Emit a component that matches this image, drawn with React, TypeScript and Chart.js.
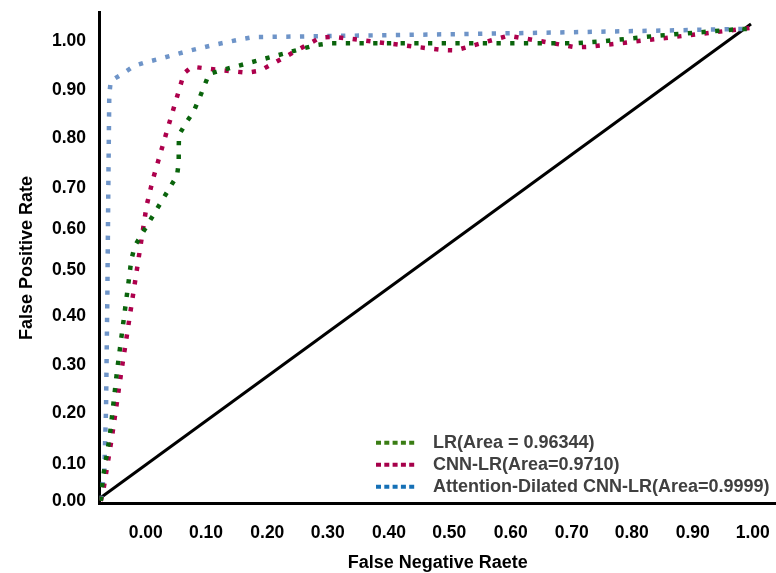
import React, { useEffect, useRef } from 'react';
import { Chart, registerables } from 'chart.js';

Chart.register(...registerables);

// Tick labels and where they sit along each axis (data units)
const xTickLabels = ['0.00', '0.10', '0.20', '0.30', '0.40', '0.50', '0.60', '0.70', '0.80', '0.90', '1.00'];
const xTickValues = [0.0709, 0.1635, 0.2576, 0.3503, 0.4444, 0.5369, 0.6312, 0.7248, 0.8169, 0.9105, 1.0026];
const yTickLabels = ['0.00', '0.10', '0.20', '0.30', '0.40', '0.50', '0.60', '0.70', '0.80', '0.90', '1.00'];
const yTickValues = [0.0048, 0.082, 0.1884, 0.2886, 0.3908, 0.4868, 0.5723, 0.6579, 0.7622, 0.8623, 0.9652];

const seriesNames = ['LR(Area = 0.96344)', 'CNN-LR(Area=0.9710)', 'Attention-Dilated CNN-LR(Area=0.9999)'];

// LR curve
const lrX = [0.002, 0.0054, 0.0157, 0.0273, 0.0437, 0.0488, 0.054, 0.0642, 0.1082, 0.119, 0.1216, 0.1216, 0.122, 0.1323, 0.144, 0.1527, 0.1681, 0.1885, 0.3308, 0.3518, 0.7298, 0.7724, 0.8568, 0.9831, 1.0];
const lrY = [0.005, 0.0542, 0.139, 0.2802, 0.4519, 0.5076, 0.5362, 0.5598, 0.6593, 0.6835, 0.7106, 0.7392, 0.7684, 0.7928, 0.8164, 0.8429, 0.8957, 0.904, 0.9556, 0.9597, 0.9597, 0.9639, 0.9756, 0.9896, 0.99];

// CNN-LR curve
const cnnX = [0.002, 0.0058, 0.0192, 0.0341, 0.0534, 0.0724, 0.0821, 0.1056, 0.1297, 0.142, 0.1839, 0.2259, 0.2464, 0.3384, 0.3589, 0.5257, 0.5467, 0.6275, 0.7318, 0.7529, 0.9831, 1.0];
const cnnY = [0.005, 0.0263, 0.139, 0.2802, 0.4519, 0.6217, 0.6766, 0.7866, 0.8971, 0.9109, 0.904, 0.8984, 0.9026, 0.9714, 0.9735, 0.9458, 0.9451, 0.9756, 0.9514, 0.9526, 0.9889, 0.992];

// Attention-Dilated CNN-LR curve
const attX = [0.0023, 0.0074, 0.01, 0.012, 0.0135, 0.015, 0.0172, 0.0356, 0.053, 0.0724, 0.0929, 0.1343, 0.1747, 0.2167, 0.2371, 0.2797, 0.5952, 0.8276, 1.0];
const attY = [0.0069, 0.0695, 0.1947, 0.4242, 0.6537, 0.8519, 0.8811, 0.8963, 0.9124, 0.9207, 0.9276, 0.943, 0.9562, 0.9681, 0.9729, 0.9735, 0.9798, 0.9854, 0.99];

// Chance diagonal
const chanceX = [0, 1];
const chanceY = [0.01, 1];

const lineColors = ['#0a640c', '#ad004c', '#6e94c8'];
const legendColors = ['#3a7d14', '#a6004a', '#1570b6'];

const toPoints = (xs: number[], ys: number[]) => xs.map((x, i) => ({ x, y: ys[i] }));

const FONT = "'Liberation Sans', Arial, sans-serif";

const legendPlacer = {
  id: 'legendPlacer',
  beforeDraw(chart: any) {
    const lg = chart.legend;
    if (!lg) return;
    lg.left = 372;
    lg.top = 429.7;
    lg.right = 776;
    lg.bottom = 573;
    lg.width = lg.right - lg.left;
    lg.height = lg.bottom - lg.top;
  },
};

export default function App() {
  const ref = useRef<HTMLCanvasElement | null>(null);

  useEffect(() => {
    if (!ref.current) return;
    const dotted = (i: number) => ({
      label: seriesNames[i],
      borderColor: lineColors[i],
      backgroundColor: lineColors[i],
      borderWidth: 4.5,
      borderDash: [4.3, 9.4],
      borderCapStyle: 'butt',
      showLine: true,
      pointRadius: 0,
      pointHoverRadius: 0,
      fill: false,
      tension: 0,
    });
    const legendDash = [5, 3.3, 5, 3.3, 5, 3.3, 5, 3.3, 5, 100];

    const chart = new Chart(ref.current, {
      type: 'scatter',
      data: {
        datasets: [
          { ...dotted(0), data: toPoints(lrX, lrY) },
          { ...dotted(1), data: toPoints(cnnX, cnnY) },
          { ...dotted(2), data: toPoints(attX, attY) },
          {
            label: 'chance',
            data: toPoints(chanceX, chanceY),
            borderColor: '#000',
            backgroundColor: '#000',
            borderWidth: 3,
            showLine: true,
            pointRadius: 0,
            pointHoverRadius: 0,
            fill: false,
          },
        ],
      } as any,
      options: {
        animation: false,
        responsive: false,
        maintainAspectRatio: false,
        layout: { padding: { top: 12.7, left: 0, right: 0, bottom: 0 } },
        plugins: {
          tooltip: { enabled: false },
          legend: {
            display: true,
            position: 'chartArea' as any,
            align: 'start',
            labels: {
              usePointStyle: true,
              pointStyleWidth: 48,
              padding: 4,
              color: '#404040',
              textAlign: 'left',
              font: { family: FONT, size: 18, weight: 'bold' },
              generateLabels: () =>
                seriesNames.map((name, i) => ({
                  text: name,
                  datasetIndex: i,
                  hidden: false,
                  fillStyle: legendColors[i],
                  strokeStyle: legendColors[i],
                  lineWidth: 4,
                  lineDash: legendDash,
                  lineDashOffset: 0,
                  lineCap: 'butt',
                  pointStyle: 'line',
                  fontColor: '#404040',
                })) as any,
            },
          },
        },
        scales: {
          x: {
            type: 'linear',
            min: 0,
            max: 1.0384,
            grid: { display: false, drawTicks: false },
            border: { display: true, color: '#000', width: 3 },
            afterBuildTicks: (scale: any) => {
              scale.ticks = xTickValues.map((v) => ({ value: v }));
            },
            afterFit: (scale: any) => {
              scale.height = 69.7;
              scale.paddingLeft = 0;
              scale.paddingRight = 0;
            },
            ticks: {
              autoSkip: false,
              maxRotation: 0,
              padding: 19.2,
              color: '#000',
              font: { family: FONT, size: 17.5, weight: 'bold' },
              callback: (_v: any, i: number) => xTickLabels[i],
            },
            title: {
              display: true,
              text: 'False Negative Raete',
              color: '#000',
              font: { family: FONT, size: 18, weight: 'bold', lineHeight: 1.1 },
              padding: { top: 0, bottom: 0 },
            },
          },
          y: {
            type: 'linear',
            min: 0,
            max: 1.0236,
            grid: { display: false, drawTicks: false },
            border: { display: true, color: '#000', width: 3 },
            afterBuildTicks: (scale: any) => {
              scale.ticks = yTickValues.map((v) => ({ value: v }));
            },
            afterFit: (scale: any) => {
              scale.width = 99.5;
              scale.paddingTop = 0;
              scale.paddingBottom = 0;
            },
            ticks: {
              autoSkip: false,
              padding: 13.5,
              color: '#000',
              font: { family: FONT, size: 17.5, weight: 'bold' },
              callback: (_v: any, i: number) => yTickLabels[i],
            },
            title: {
              display: true,
              text: 'False Positive Rate',
              color: '#000',
              font: { family: FONT, size: 18, weight: 'bold', lineHeight: 1.1 },
              padding: { top: 17, bottom: 0 },
            },
          },
        },
      } as any,
      plugins: [legendPlacer],
    });
    return () => chart.destroy();
  }, []);

  return (
    <div style={{ position: 'fixed', left: 0, top: 0, width: 776, height: 573, background: '#fff' }}>
      <canvas ref={ref} width={776} height={573} style={{ display: 'block' }} />
    </div>
  );
}
